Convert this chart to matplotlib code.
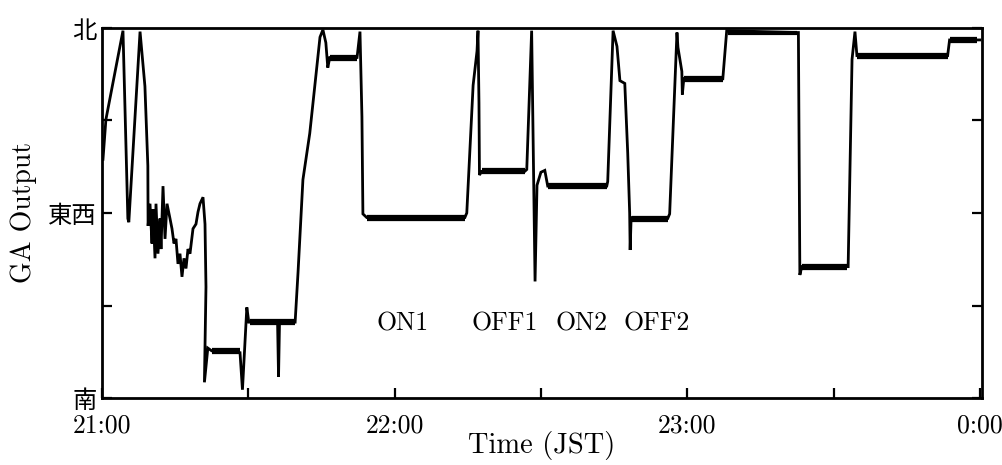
import matplotlib
matplotlib.use("Agg")
import matplotlib.pyplot as plt

plt.rcParams['font.family'] = ['cmr10', 'Noto Sans CJK JP', 'DejaVu Sans']
plt.rcParams['axes.formatter.use_mathtext'] = True

# minutes after 21:00 JST and GA output level (0 = 南, 2 = 東西, 4 = 北)
minutes = [0.2, 0.8, 4.3, 5.3, 5.5, 7.8, 8.8, 9.4, 9.45, 9.84, 10.25, 10.46, 10.87,
           11.07, 11.48, 11.89, 12.10, 12.51, 12.92, 13.33, 13.94, 14.35, 14.76,
           15.17, 15.58, 15.99, 16.40, 16.81, 17.22, 17.63, 18.04, 18.66, 19.27,
           19.68, 20.09, 20.71, 21.12, 21.32, 21.0, 21.7, 22.5, 28.3, 28.8, 29.7,
           30.1, 36.0, 36.2, 36.4, 39.6, 40.2, 41.2, 42.6, 44.7, 45.3, 45.9, 46.3,
           46.7, 52.3, 52.9, 53.3, 53.5, 54.3, 74.4, 74.8, 76.1, 76.9, 77.1, 77.3,
           77.4, 77.9, 86.7, 87.1, 88.1, 88.8, 89.2, 90.0, 90.8, 91.4, 103.5, 103.7,
           104.8, 105.6, 106.2, 107.2, 107.8, 108.2, 108.3, 108.5, 116.0, 116.4,
           117.9, 118.1, 118.9, 119.0, 119.3, 127.3, 128.1, 142.5, 142.8, 143.1,
           143.5, 152.7, 153.0, 153.8, 154.4, 154.8, 173.4, 173.8, 180.0]
output = [2.58, 3.01, 3.97, 1.94, 1.90, 3.96, 3.37, 2.51, 1.86, 2.10, 1.67, 2.04, 1.51,
          2.10, 1.56, 1.94, 1.61, 2.29, 1.72, 2.10, 1.94, 1.83, 1.67,
          1.72, 1.45, 1.56, 1.31, 1.51, 1.40, 1.61, 1.56, 1.83, 1.88,
          2.01, 2.10, 2.17, 1.88, 1.20, 0.17, 0.54, 0.51, 0.49, 0.09, 0.98,
          0.82, 0.82, 0.23, 0.82, 0.82, 1.36, 2.36, 2.86, 3.90, 3.98, 3.84, 3.57,
          3.68, 3.68, 3.96, 3.04, 1.99, 1.95, 1.95, 2.00, 3.38, 3.75, 3.97, 3.19,
          2.41, 2.45, 2.45, 2.47, 3.97, 1.26, 2.30, 2.44, 2.46, 2.29, 2.29, 2.34,
          3.97, 3.80, 3.43, 3.40, 2.65, 2.00, 1.60, 1.95, 1.94, 1.99,
          3.95, 3.79, 3.53, 3.28, 3.45, 3.45, 3.97, 3.95, 3.95, 1.33,
          1.42, 1.42, 1.42, 3.66, 3.96, 3.70, 3.70, 3.87, 3.87]

# steady plateaus (drawn thicker, as in the recorder trace)
plateau_start = [22.5, 30.3, 46.7, 54.3, 77.9, 91.4, 108.7, 119.3, 128.3, 143.5, 154.8, 173.8]
plateau_end = [28.3, 39.6, 52.3, 74.4, 86.7, 103.5, 116.0, 127.3, 142.5, 152.7, 173.4, 179.5]
plateau_level = [0.51, 0.82, 3.68, 1.95, 2.45, 2.29, 1.94, 3.45, 3.95, 1.42, 3.70, 3.87]
plateau_width = [4.5, 4.5, 4.5, 4.5, 4.5, 4.5, 4.5, 4.5, 3.0, 4.5, 4.5, 4.5]

x_ticks = [0, 60, 120, 180]
x_tick_labels = ['21:00', '22:00', '23:00', '0:00']
x_minor_ticks = [30, 90, 150]
y_ticks = [0, 2, 4]
y_tick_labels = ['南', '東西', '北']
y_minor_ticks = [1, 3]

period_labels = ['ON1', 'OFF1', 'ON2', 'OFF2']
period_x = [61.6, 82.6, 98.4, 113.8]
period_y = [0.80, 0.80, 0.80, 0.80]

fig = plt.figure(figsize=(10.02, 4.65), dpi=100)
ax = fig.add_axes([0.1018, 0.144, 0.878, 0.796])

ax.plot(minutes, output, color='black', lw=2.0, solid_joinstyle='miter')
for s, e, lv, w in zip(plateau_start, plateau_end, plateau_level, plateau_width):
    ax.hlines(lv, s, e, color='black', lw=w)

for lab, px, py in zip(period_labels, period_x, period_y):
    ax.text(px, py, lab, ha='center', va='center', fontsize=18.5, family='cmr10')

ax.set_xlim(0, 180.4)
ax.set_ylim(0, 4)
ax.set_xticks(x_ticks)
ax.set_xticklabels(x_tick_labels, fontsize=18.5, family='cmr10')
ax.set_xticks(x_minor_ticks, minor=True)
ax.set_yticks(y_ticks)
ax.set_yticklabels(y_tick_labels, fontsize=17.5, family='Noto Sans CJK JP')
ax.set_yticks(y_minor_ticks, minor=True)

ax.tick_params(axis='both', which='both', direction='in', length=7, width=1.6,
               right=True, top=False)
ax.tick_params(axis='x', which='both', pad=11)
ax.tick_params(axis='y', which='both', pad=4)

for sp in ax.spines.values():
    sp.set_linewidth(2.0)

ax.set_xlabel('Time (JST)', fontsize=20.5, family='cmr10', labelpad=-4)
ax.set_ylabel('GA Output', fontsize=20, family='cmr10', labelpad=8)

fig.savefig('out.png', dpi=100)
